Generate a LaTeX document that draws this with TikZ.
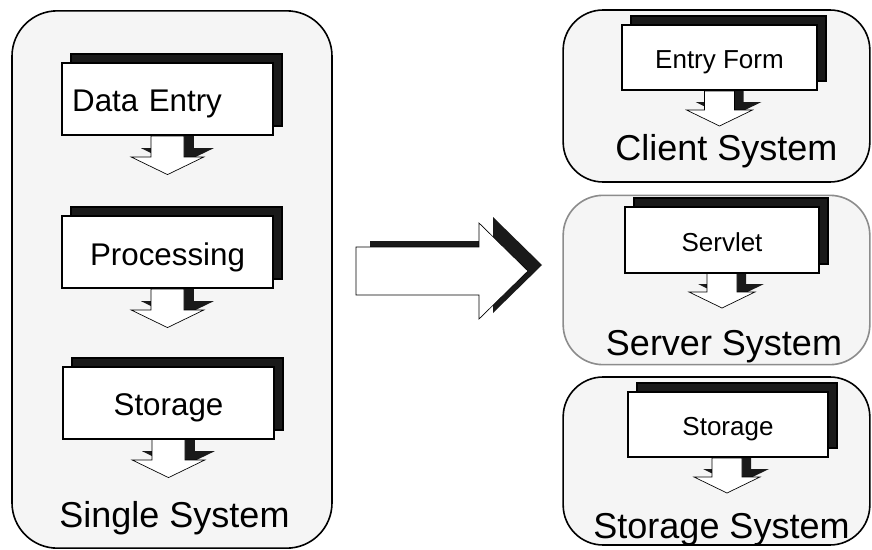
\documentclass[tikz,border=0pt]{standalone}
\usepackage{fontspec}
\setmainfont{Liberation Sans}
\usetikzlibrary{shadows}

\definecolor{panelgray}{HTML}{F5F5F5}
\definecolor{edgegray}{HTML}{8C8C8C}
\definecolor{shadowblack}{HTML}{1A1A1A}

\begin{document}
\begin{tikzpicture}[
    x=0.75pt, y=-0.75pt,
    system/.style={draw=black, line width=1.2pt, fill=panelgray,
        rounded corners=30pt, inner sep=0pt},
    stepbox/.style={draw=black, line width=1.5pt, fill=white, inner sep=0pt,
        text height=#1, text depth=0pt,
        copy shadow={shadow xshift=6.75pt, shadow yshift=6.75pt, fill=shadowblack}},
    bigstep/.style={stepbox=19.5pt, minimum width=158pt, minimum height=54pt,
        font=\fontsize{23.5}{28}\selectfont},
    smallstep/.style={stepbox=16.5pt, minimum width=146pt, minimum height=49pt,
        font=\fontsize{19.5}{23}\selectfont},
    syslabel/.style={anchor=base, font=\fontsize{27}{32}\selectfont},
    pics/downarrow/.style={code={
        \fill[shadowblack] (-6,0) -- (-6,12) -- (-24,12) -- (9,28)
            -- (42,12) -- (24,12) -- (24,0) -- cycle;
        \filldraw[fill=white, draw=black, line width=0.5pt] (-15,1) -- (-15,20)
            -- (-33,20) -- (0,36) -- (33,20) -- (15,20) -- (15,1) -- cycle;
    }},
    pics/bigarrow/.style={code={
        \fill[shadowblack] (14,-30) -- (137,-30) -- (137,-54) -- (186,-6)
            -- (137,42) -- (137,18) -- (14,18) -- cycle;
        \filldraw[fill=white, draw=black, line width=0.5pt] (0,-24) -- (123,-24)
            -- (123,-48) -- (172,0) -- (123,48) -- (123,24) -- (0,24) -- cycle;
    }}
]
    \useasboundingbox (0,0) rectangle (872,550);

    % containers
    \node[system, rounded corners=34pt, minimum width=240pt, minimum height=403pt]
        (single) at (172,279.5) {};
    \node[system, minimum width=230pt, minimum height=129pt] (client) at (716.5,96) {};
    \node[system, draw=edgegray, minimum width=230pt, minimum height=127pt]
        (server) at (716.5,280) {};
    \node[system, minimum width=230pt, minimum height=126pt] (storesys) at (716.5,461) {};

    % single system steps
    \pic[scale=1.1] at (167.5,135) {downarrow};
    \pic[scale=1.1] at (167.5,288) {downarrow};
    \pic[scale=1.1] at (168.5,438) {downarrow};
    \node[bigstep, text width=143pt, align=left] (entry) at (167.5,98.5) {Data Entry};
    \node[bigstep] (proc) at (167.5,252) {Processing};
    \node[bigstep] (store) at (168.5,402.5) {Storage};
    \node[syslabel] (singlelbl) at (174.5,527) {Single System};

    % the move
    \pic at (356,271) {bigarrow};

    % distributed systems
    \pic at (719.5,90) {downarrow};
    \pic at (722,272) {downarrow};
    \pic at (727,457) {downarrow};
    \node[smallstep] (form) at (719.5,57.5) {Entry Form};
    \node[smallstep] (servlet) at (722,240) {Servlet};
    \node[smallstep, minimum width=150pt] (store2) at (728,424.5) {Storage};
    \node[syslabel] (clientlbl) at (726.5,160) {Client System};
    \node[syslabel] (serverlbl) at (724,355) {Server System};
    \node[syslabel] (storelbl) at (721.5,538) {Storage System};
\end{tikzpicture}
\end{document}
